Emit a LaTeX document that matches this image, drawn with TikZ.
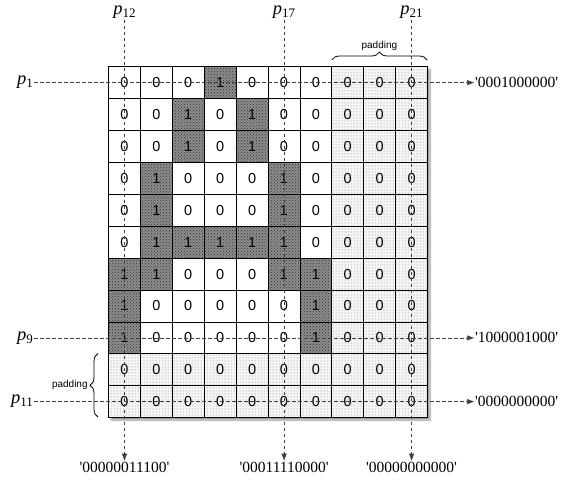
\documentclass[tikz,border=0pt]{standalone}
\usepackage{fontspec}
\setmainfont{Liberation Serif}
\newfontfamily\sansf{Liberation Sans}
\usetikzlibrary{patterns,arrows.meta,decorations.pathreplacing,shadows.blur}
\newcommand{\plab}[1]{{\fontsize{18.5}{18.5}\selectfont\itshape p}{\fontsize{13}{13}\selectfont\raisebox{-3pt}{#1}}}
\newcommand{\qq}{\textquotesingle}
\begin{document}
\begin{tikzpicture}[x=1pt,y=-1pt,
  cellbox/.style={draw=black, line width=0.7pt, minimum width=31.9pt, minimum height=31.9pt, inner sep=0pt, outer sep=0pt, font=\sansf\fontsize{14.5}{14.5}\selectfont},
  onecell/.style={cellbox, preaction={fill=black!45}, pattern=crosshatch dots, pattern color=black!80},
  zerocell/.style={cellbox, fill=white},
  padcell/.style={cellbox, preaction={fill=gray!6}, pattern=dots, pattern color=black!55},
  dashline/.style={draw=black!75, line width=0.6pt, dash pattern=on 3.5pt off 2.5pt},
  tip/.style={-{Triangle[length=7pt,width=5pt]}},
  lab/.style={inner sep=1pt, font=\fontsize{15.5}{15.5}\selectfont},
  plabel/.style={inner sep=1pt},
  padlab/.style={font=\sansf\fontsize{10}{10}\selectfont, inner sep=1pt},
  bracedeco/.style={decorate, decoration={brace, amplitude=8pt}, line width=0.8pt}
]
\useasboundingbox (0,0) rectangle (564,481);
% grid frame with shadow
\node[draw, line width=1.2pt, fill=white, anchor=north west, minimum width=319pt, minimum height=350.9pt, inner sep=0pt, outer sep=0pt,
  blur shadow={shadow xshift=2.5pt, shadow yshift=-2.5pt, shadow blur steps=6}] (grid) at (108.5,66.7) {};
% data cells
\foreach \row [count=\r] in {{0,0,0,1,0,0,0},{0,0,1,0,1,0,0},{0,0,1,0,1,0,0},{0,1,0,0,0,1,0},{0,1,0,0,0,1,0},{0,1,1,1,1,1,0},{1,1,0,0,0,1,1},{1,0,0,0,0,0,1},{1,0,0,0,0,0,1}}{
  \foreach \v [count=\c] in \row {
    \ifnum\v=1
      \node[onecell] (cell-\r-\c) at ({108.5+(\c-0.5)*31.9},{66.7+(\r-0.5)*31.9}) {1};
    \else
      \node[zerocell] (cell-\r-\c) at ({108.5+(\c-0.5)*31.9},{66.7+(\r-0.5)*31.9}) {0};
    \fi
  }
  \foreach \c in {8,9,10} {
    \node[padcell] (cell-\r-\c) at ({108.5+(\c-0.5)*31.9},{66.7+(\r-0.5)*31.9}) {0};
  }
}
\foreach \r in {10,11} {
  \foreach \c in {1,...,10} {
    \node[padcell] (cell-\r-\c) at ({108.5+(\c-0.5)*31.9},{66.7+(\r-0.5)*31.9}) {0};
  }
}
\draw[line width=1.2pt] (grid.north west) rectangle (grid.south east);
% row probes
\node[plabel, anchor=east] (p1) at (34,82.6) {\plab{1}};
\node[plabel, anchor=east] (p9) at (34,337.9) {\plab{9}};
\node[plabel, anchor=east] (p11) at (34,401.6) {\plab{11}};
\node[lab, anchor=west] (o1) at (474,82.6) {\qq0001000000\qq};
\node[lab, anchor=west] (o9) at (474,337.9) {\qq1000001000\qq};
\node[lab, anchor=west] (o11) at (474,401.6) {\qq0000000000\qq};
\draw[dashline, tip] (p1.east) -- (o1.west);
\draw[dashline, tip] (p9.east) -- (o9.west);
\draw[dashline, tip] (p11.east) -- (o11.west);
% column probes
\node[plabel] (p12) at (124.5,12) {\plab{12}};
\node[plabel] (p17) at (284.1,12) {\plab{17}};
\node[plabel] (p21) at (411.6,12) {\plab{21}};
\node[lab] (o12) at (124.5,467) {\qq00000011100\qq};
\node[lab] (o17) at (284.1,467) {\qq00011110000\qq};
\node[lab] (o21) at (411.6,467) {\qq00000000000\qq};
\draw[dashline, tip] (p12.south) -- (o12.north);
\draw[dashline, tip] (p17.south) -- (o17.north);
\draw[dashline, tip] (p21.south) -- (o21.north);
% braces
\coordinate (tb1) at (331.8,60);
\coordinate (tb2) at (427,60);
\draw[bracedeco] (tb1) -- (tb2) node[midway, above=8pt, padlab] (padtop) {padding};
\coordinate (lb1) at (98,417);
\coordinate (lb2) at (98,353.5);
\draw[bracedeco] (lb1) -- (lb2) node[midway, left=9pt, padlab] (padleft) {padding};
\end{tikzpicture}
\end{document}
